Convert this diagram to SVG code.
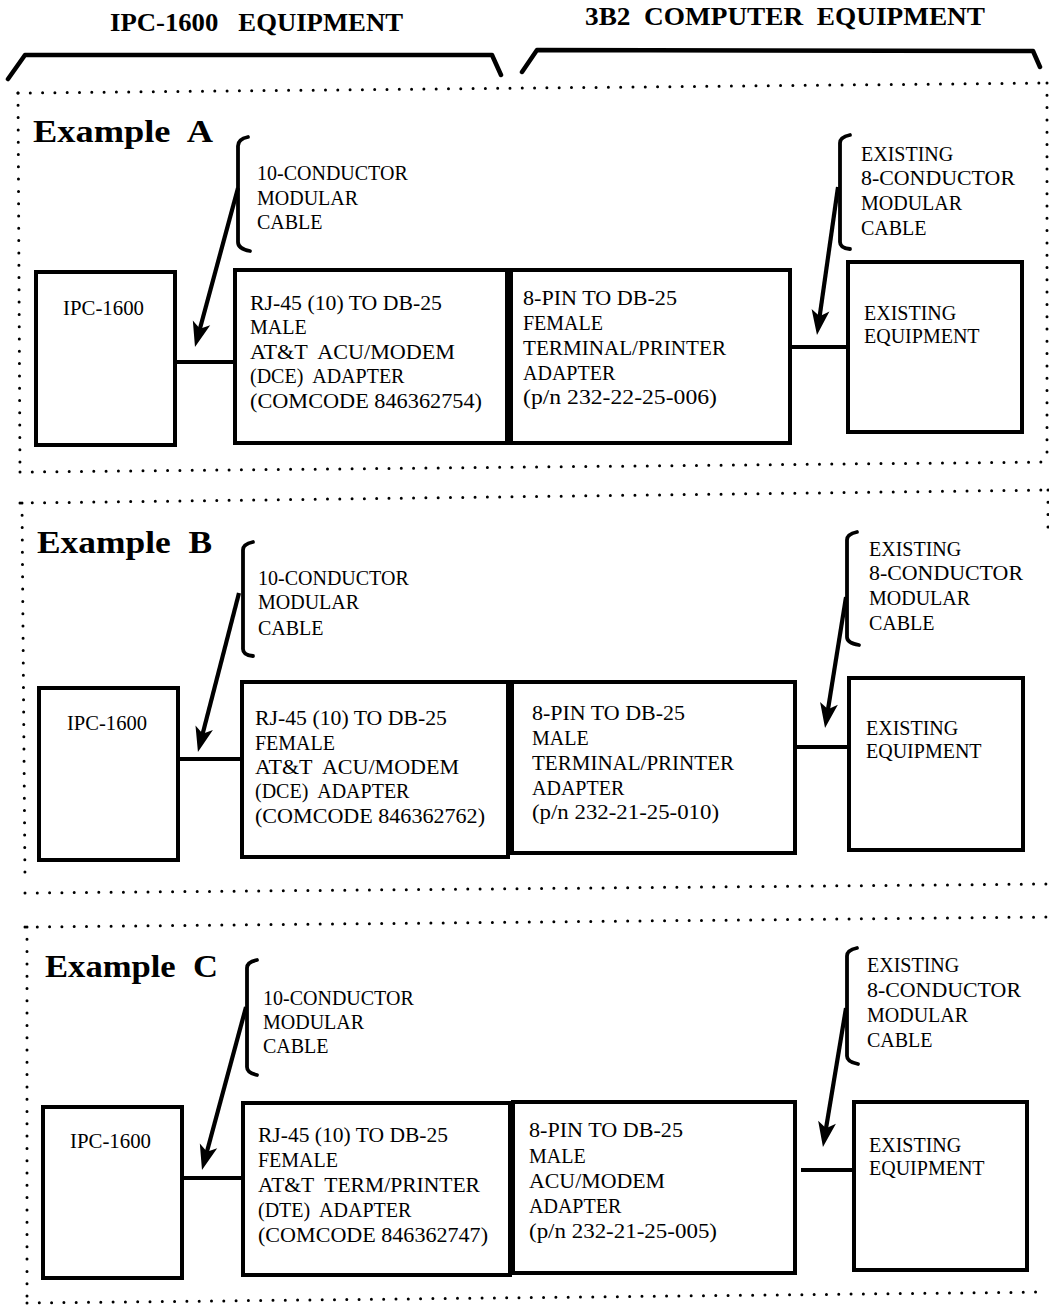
<svg xmlns="http://www.w3.org/2000/svg" width="1049" height="1307" viewBox="0 0 1049 1307">
<style>
.box{fill:none;stroke:#000;stroke-width:4}
.conn{fill:none;stroke:#000;stroke-width:4}
.arr{fill:none;stroke:#000;stroke-width:4.2;marker-end:url(#ah)}
.brace{fill:none;stroke:#000;stroke-width:3.8;stroke-linecap:round;stroke-linejoin:round}
.bracket{fill:none;stroke:#000;stroke-width:4.5;stroke-linecap:round;stroke-linejoin:round}
.dots{fill:none;stroke:#000;stroke-width:3;stroke-dasharray:0 12.3;stroke-linecap:round}
text{font-family:"Liberation Serif","Times New Roman",serif;fill:#000;white-space:pre}
.t{font-size:20px}
.h{font-size:26px;font-weight:bold}
.ex{font-size:31px;font-weight:bold}
</style>
<defs>
<marker id="ah" markerUnits="userSpaceOnUse" viewBox="-15 -12 35 24" markerWidth="35" markerHeight="24" refX="0" refY="0" orient="auto" overflow="visible">
<path d="M15,0 L-10,-9 L-4,0 L-10,9 Z" fill="#000"/>
</marker>
</defs>

<g id="headers">
<text class="h" x="110" y="31" textLength="293" lengthAdjust="spacingAndGlyphs" xml:space="preserve">IPC-1600   EQUIPMENT</text>
<text class="h" x="585" y="25" textLength="400" lengthAdjust="spacingAndGlyphs" xml:space="preserve">3B2  COMPUTER  EQUIPMENT</text>
<polyline class="bracket" points="8,79 25,55 492,55 501,75"/>
<polyline class="bracket" points="522,72 537,50 1033,51 1040,67"/>
</g>

<g id="frames">
<line class="dots" x1="18" y1="93" x2="1047" y2="83"/>
<line class="dots" x1="18" y1="93" x2="20" y2="472"/>
<line class="dots" x1="1047" y1="83" x2="1047" y2="462"/>
<line class="dots" x1="20" y1="472" x2="1047" y2="462"/>
<line class="dots" x1="20" y1="503" x2="1047" y2="490"/>
<line class="dots" x1="22" y1="503" x2="25" y2="880"/>
<line class="dots" x1="1048" y1="490" x2="1048" y2="528"/>
<line class="dots" x1="25" y1="893" x2="1047" y2="884"/>
<line class="dots" x1="25" y1="927" x2="1047" y2="917"/>
<line class="dots" x1="27" y1="927" x2="27" y2="1300"/>
<line class="dots" x1="27" y1="1303" x2="1047" y2="1292"/>
</g>

<g id="example-a">
<text class="ex" x="33" y="142" textLength="180" lengthAdjust="spacingAndGlyphs" xml:space="preserve">Example  A</text>
<g id="a-cable10">
<path class="brace" d="M248,137 Q238,139 238,146 L238,242 Q238,249 250,251"/>
<text class="t" x="257" y="180">10-CONDUCTOR</text>
<text class="t" x="257" y="205">MODULAR</text>
<text class="t" x="257" y="229">CABLE</text>
</g>
<g id="a-cable8">
<path class="brace" d="M850,135 Q840,137 840,143 L840,242 Q840,248 850,249"/>
<text class="t" x="861" y="161">EXISTING</text>
<text class="t" x="861" y="185" textLength="154" lengthAdjust="spacingAndGlyphs">8-CONDUCTOR</text>
<text class="t" x="861" y="210">MODULAR</text>
<text class="t" x="861" y="235">CABLE</text>
</g>
<g id="a-ipc">
<rect class="box" x="36" y="272" width="139" height="173"/>
<text class="t" x="63" y="315" textLength="81" lengthAdjust="spacingAndGlyphs">IPC-1600</text>
</g>
<g id="a-rj45">
<rect class="box" x="235" y="270" width="272" height="173"/>
<text class="t" x="250" y="310" textLength="192" lengthAdjust="spacingAndGlyphs">RJ-45 (10) TO DB-25</text>
<text class="t" x="250" y="334">MALE</text>
<text class="t" x="250" y="359" textLength="205" lengthAdjust="spacingAndGlyphs" xml:space="preserve">AT&amp;T  ACU/MODEM</text>
<text class="t" x="250" y="383" xml:space="preserve">(DCE)  ADAPTER</text>
<text class="t" x="250" y="408" textLength="232" lengthAdjust="spacingAndGlyphs">(COMCODE 846362754)</text>
</g>
<g id="a-8pin">
<rect class="box" x="511" y="270" width="279" height="173"/>
<text class="t" x="523" y="305" textLength="154" lengthAdjust="spacingAndGlyphs">8-PIN TO DB-25</text>
<text class="t" x="523" y="330">FEMALE</text>
<text class="t" x="523" y="355" textLength="203" lengthAdjust="spacingAndGlyphs">TERMINAL/PRINTER</text>
<text class="t" x="523" y="380">ADAPTER</text>
<text class="t" x="523" y="404" textLength="194" lengthAdjust="spacingAndGlyphs">(p/n 232-22-25-006)</text>
</g>
<g id="a-existing">
<rect class="box" x="848" y="262" width="174" height="170"/>
<text class="t" x="864" y="320">EXISTING</text>
<text class="t" x="864" y="343">EQUIPMENT</text>
</g>
</g>

<g id="example-b">
<text class="ex" x="37" y="553" textLength="175" lengthAdjust="spacingAndGlyphs" xml:space="preserve">Example  B</text>
<g id="b-cable10">
<path class="brace" d="M253,542 Q243,544 243,550 L243,649 Q243,655 253,656"/>
<text class="t" x="258" y="585">10-CONDUCTOR</text>
<text class="t" x="258" y="609">MODULAR</text>
<text class="t" x="258" y="635">CABLE</text>
</g>
<g id="b-cable8">
<path class="brace" d="M857,532 Q847,534 847,540 L847,637 Q847,643 859,645"/>
<text class="t" x="869" y="556">EXISTING</text>
<text class="t" x="869" y="580" textLength="154" lengthAdjust="spacingAndGlyphs">8-CONDUCTOR</text>
<text class="t" x="869" y="605">MODULAR</text>
<text class="t" x="869" y="630">CABLE</text>
</g>
<g id="b-ipc">
<rect class="box" x="39" y="688" width="139" height="172"/>
<text class="t" x="67" y="730" textLength="80" lengthAdjust="spacingAndGlyphs">IPC-1600</text>
</g>
<g id="b-rj45">
<rect class="box" x="242" y="682" width="266" height="175"/>
<text class="t" x="255" y="725" textLength="192" lengthAdjust="spacingAndGlyphs">RJ-45 (10) TO DB-25</text>
<text class="t" x="255" y="750">FEMALE</text>
<text class="t" x="255" y="774" textLength="204" lengthAdjust="spacingAndGlyphs" xml:space="preserve">AT&amp;T  ACU/MODEM</text>
<text class="t" x="255" y="798" xml:space="preserve">(DCE)  ADAPTER</text>
<text class="t" x="255" y="823" textLength="230" lengthAdjust="spacingAndGlyphs">(COMCODE 846362762)</text>
</g>
<g id="b-8pin">
<rect class="box" x="512" y="682" width="283" height="171"/>
<text class="t" x="532" y="720" textLength="153" lengthAdjust="spacingAndGlyphs">8-PIN TO DB-25</text>
<text class="t" x="532" y="745">MALE</text>
<text class="t" x="532" y="770" textLength="202" lengthAdjust="spacingAndGlyphs">TERMINAL/PRINTER</text>
<text class="t" x="532" y="795">ADAPTER</text>
<text class="t" x="532" y="819" textLength="187" lengthAdjust="spacingAndGlyphs">(p/n 232-21-25-010)</text>
</g>
<g id="b-existing">
<rect class="box" x="849" y="678" width="174" height="172"/>
<text class="t" x="866" y="735">EXISTING</text>
<text class="t" x="866" y="758">EQUIPMENT</text>
</g>
</g>

<g id="example-c">
<text class="ex" x="45" y="977" textLength="173" lengthAdjust="spacingAndGlyphs" xml:space="preserve">Example  C</text>
<g id="c-cable10">
<path class="brace" d="M257,960 Q247,962 247,968 L247,1067 Q247,1073 257,1075"/>
<text class="t" x="263" y="1005">10-CONDUCTOR</text>
<text class="t" x="263" y="1029">MODULAR</text>
<text class="t" x="263" y="1053">CABLE</text>
</g>
<g id="c-cable8">
<path class="brace" d="M857,948 Q847,950 847,956 L847,1056 Q847,1062 858,1064"/>
<text class="t" x="867" y="972">EXISTING</text>
<text class="t" x="867" y="997" textLength="154" lengthAdjust="spacingAndGlyphs">8-CONDUCTOR</text>
<text class="t" x="867" y="1022">MODULAR</text>
<text class="t" x="867" y="1047">CABLE</text>
</g>
<g id="c-ipc">
<rect class="box" x="43" y="1107" width="139" height="171"/>
<text class="t" x="70" y="1148" textLength="81" lengthAdjust="spacingAndGlyphs">IPC-1600</text>
</g>
<g id="c-rj45">
<rect class="box" x="243" y="1103" width="267" height="172"/>
<text class="t" x="258" y="1142" textLength="190" lengthAdjust="spacingAndGlyphs">RJ-45 (10) TO DB-25</text>
<text class="t" x="258" y="1167">FEMALE</text>
<text class="t" x="258" y="1192" textLength="222" lengthAdjust="spacingAndGlyphs" xml:space="preserve">AT&amp;T  TERM/PRINTER</text>
<text class="t" x="258" y="1217" xml:space="preserve">(DTE)  ADAPTER</text>
<text class="t" x="258" y="1242" textLength="230" lengthAdjust="spacingAndGlyphs">(COMCODE 846362747)</text>
</g>
<g id="c-8pin">
<rect class="box" x="513" y="1102" width="282" height="171"/>
<text class="t" x="529" y="1137" textLength="154" lengthAdjust="spacingAndGlyphs">8-PIN TO DB-25</text>
<text class="t" x="529" y="1163">MALE</text>
<text class="t" x="529" y="1188" textLength="136" lengthAdjust="spacingAndGlyphs">ACU/MODEM</text>
<text class="t" x="529" y="1213">ADAPTER</text>
<text class="t" x="529" y="1238" textLength="188" lengthAdjust="spacingAndGlyphs">(p/n 232-21-25-005)</text>
</g>
<g id="c-existing">
<rect class="box" x="854" y="1102" width="173" height="168"/>
<text class="t" x="869" y="1152">EXISTING</text>
<text class="t" x="869" y="1175">EQUIPMENT</text>
</g>
</g>

<g id="connectors">
<line class="conn" x1="175" y1="362" x2="235" y2="362"/>
<line class="conn" x1="790" y1="347" x2="848" y2="347"/>
<line class="conn" x1="178" y1="759" x2="242" y2="759"/>
<line class="conn" x1="795" y1="747" x2="849" y2="747"/>
<line class="conn" x1="182" y1="1178" x2="243" y2="1178"/>
<line class="conn" x1="801" y1="1170" x2="854" y2="1170"/>
<line class="arr" x1="238" y1="188" x2="198.9" y2="332.5"/>
<line class="arr" x1="838" y1="187" x2="819.1" y2="320.2"/>
<line class="arr" x1="239" y1="593" x2="201.7" y2="737.5"/>
<line class="arr" x1="846" y1="597" x2="827.4" y2="713.2"/>
<line class="arr" x1="246" y1="1007" x2="205.9" y2="1155.5"/>
<line class="arr" x1="846" y1="1008" x2="825.4" y2="1132.2"/>
</g>
</svg>
